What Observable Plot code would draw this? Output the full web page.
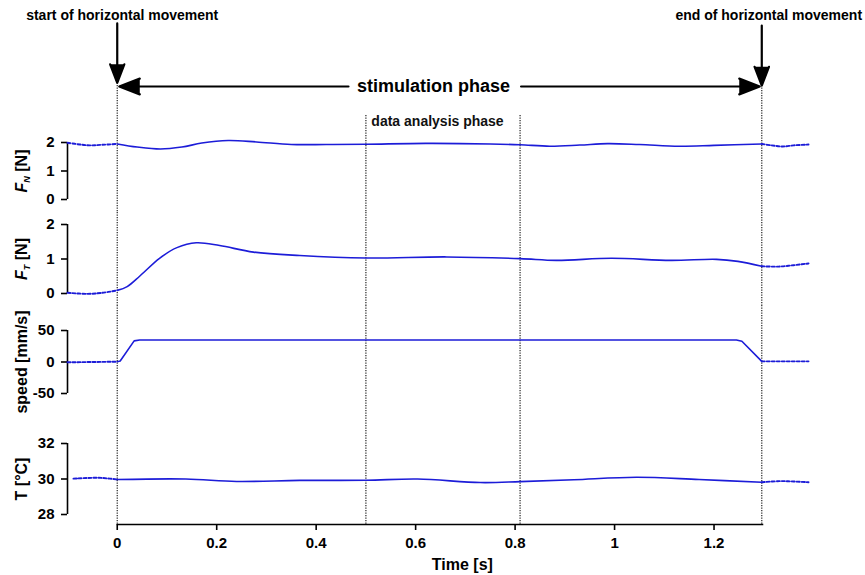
<!DOCTYPE html>
<html><head><meta charset="utf-8">
<script src="https://cdn.jsdelivr.net/npm/d3@7"></script>
<script src="https://cdn.jsdelivr.net/npm/@observablehq/plot@0.6"></script>
<style>
body{margin:0;background:#fff;}
#chart{width:865px;height:575px;overflow:hidden;}
#chart svg{display:block;}
</style></head><body><div id="chart"></div>
<script>
// ---- data ----
const xTicks = [0, 0.2, 0.4, 0.6, 0.8, 1, 1.2];
const xTickLabels = ["0", "0.2", "0.4", "0.6", "0.8", "1", "1.2"];
const xLabel = "Time [s]";
const moveStart = 0, moveEnd = 1.296;
const analysisStart = 0.5, analysisEnd = 0.81;
const phaseLines = [moveStart, analysisStart, analysisEnd, moveEnd];

const fnTicks = [0, 1, 2];
const fnPre  = [[-0.1,1.99],[-0.075,1.93],[-0.055,1.9],[-0.03,1.92],[0,1.95]];
const fnMain = [[0,1.95],[0.04,1.84],[0.087,1.77],[0.13,1.84],[0.17,1.98],[0.223,2.07],[0.28,2.02],[0.35,1.93],[0.42,1.93],[0.5,1.94],[0.62,1.97],[0.75,1.95],[0.81,1.92],[0.87,1.87],[0.93,1.91],[0.986,1.96],[1.05,1.93],[1.13,1.87],[1.2,1.9],[1.296,1.95]];
const fnPost = [[1.296,1.95],[1.315,1.9],[1.338,1.86],[1.36,1.9],[1.39,1.93]];

const ftTicks = [0, 1, 2];
const ftPre  = [[-0.1,0.02],[-0.06,-0.01],[-0.03,0.02],[0,0.09]];
const ftMain = [[0,0.09],[0.02,0.2],[0.045,0.5],[0.085,1.02],[0.12,1.33],[0.159,1.47],[0.206,1.39],[0.274,1.2],[0.367,1.1],[0.5,1.03],[0.663,1.06],[0.81,1.01],[0.883,0.96],[0.994,1.02],[1.113,0.96],[1.205,0.99],[1.248,0.93],[1.296,0.79]];
const ftPost = [[1.296,0.79],[1.33,0.78],[1.36,0.82],[1.39,0.87]];

const spTicks = [-50, 0, 50];
const spPre  = [[-0.1,-0.5],[0,0.5]];
const spMain = [[0,0.5],[0.006,1.5],[0.034,33.5],[0.045,35],[1.245,35],[1.256,33],[1.296,1]];
const spPost = [[1.296,1],[1.39,1]];

const tTicks = [28, 30, 32];
const tPre  = [[-0.088,30.02],[-0.04,30.07],[-0.015,30.02],[0,29.97]];
const tMain = [[0,29.97],[0.138,30.0],[0.24,29.86],[0.367,29.92],[0.5,29.93],[0.604,30.0],[0.73,29.8],[0.81,29.85],[0.918,29.96],[1.044,30.1],[1.17,29.97],[1.296,29.82]];
const tPost = [[1.296,29.82],[1.333,29.88],[1.36,29.86],[1.39,29.82]];

// ---- style ----
const FONT = "'Liberation Sans', Arial, Helvetica, sans-serif";
const BLUE = "#1c1cd8";
const W = 865, ML = 67, MR = 52;
const xScale = {domain: [-0.1, 1.4]};
const curve = "catmull-rom";
const baseStyle = {fontFamily: FONT, color: "black", background: "white", overflow: "visible"};

const panels = [
  {label: "F_N [N]", ticks: fnTicks, domain: [0, 2], pre: fnPre, main: fnMain, post: fnPost, h: 77, mt: 7, mb: 13},
  {label: "F_T [N]", ticks: ftTicks, domain: [0, 2], pre: ftPre, main: ftMain, post: ftPost, h: 93, mt: 12, mb: 12},
  {label: "speed [mm/s]", ticks: spTicks, domain: [-50, 50], pre: spPre, main: spMain, post: spPost, h: 115, mt: 25, mb: 27, linear: true},
  {label: "T [°C]", ticks: tTicks, domain: [28, 32], pre: tPre, main: tMain, post: tPost, h: 155, mt: 23, mb: 51, last: true}
];

function subscripts(svg) {
  d3.select(svg).selectAll("text").each(function () {
    const m = /^F_(\w) (.*)$/.exec(this.textContent);
    if (!m) return;
    const s = d3.select(this);
    s.text(null);
    s.append("tspan").attr("font-style", "italic").text("F");
    s.append("tspan").attr("font-style", "italic").attr("font-size", "9px").attr("dy", "3").text(m[1]);
    s.append("tspan").attr("dy", "-3").text(" " + m[2]);
  });
  return svg;
}

const root = document.getElementById("chart");
const arrowStyle = {stroke: "black", fill: "black", strokeWidth: 2.2, headLength: 15, headAngle: 42};

// ---- top annotation panel ----
const headerChart = Plot.plot({
  width: W, height: 135, marginLeft: ML, marginRight: MR, marginTop: 0, marginBottom: 0,
  x: {...xScale, axis: null},
  y: {domain: [0, 1], axis: null},
  style: baseStyle,
  marks: [
    Plot.ruleX([{x: moveStart, y1: 0.407}, {x: moveEnd, y1: 0.37}, {x: analysisStart, y1: 0.148}, {x: analysisEnd, y1: 0.148}],
      {x: "x", y1: "y1", y2: 0, stroke: "#222", strokeWidth: 1.2, strokeDasharray: "1.2,1.3"}),
    Plot.arrow([{x1: moveStart, y1: 0.83, x2: moveStart, y2: 0.39}, {x1: moveEnd, y1: 0.815, x2: moveEnd, y2: 0.37}],
      {x1: "x1", y1: "y1", x2: "x2", y2: "y2", ...arrowStyle}),
    Plot.arrow([{x1: 0.465, x2: moveStart}, {x1: 0.812, x2: moveEnd}],
      {x1: "x1", x2: "x2", y1: 0.363, y2: 0.363, ...arrowStyle, insetEnd: 2}),
    Plot.text(["start of horizontal movement"], {x: 0.01, y: 0.889, fontSize: 14, fontWeight: "bold", fill: "black"}),
    Plot.text(["end of horizontal movement"], {x: 1.31, y: 0.889, fontSize: 14, fontWeight: "bold", fill: "black"}),
    Plot.text(["stimulation phase"], {x: 0.636, y: 0.363, fontSize: 18, fontWeight: "bold", fill: "black"}),
    Plot.text(["data analysis phase"], {x: 0.511, y: 0.104, textAnchor: "start", fontSize: 14, fontWeight: "bold", fill: "#111"})
  ]
});
root.appendChild(headerChart);

// ---- data panels ----
for (const p of panels) {
  const lineOpts = {x: d => d[0], y: d => d[1], stroke: BLUE, curve: p.linear ? "linear" : curve};
  const marks = [
    Plot.ruleX(phaseLines, {x: d => d, stroke: "#222", strokeWidth: 1.2, strokeDasharray: "1.2,1.3",
      insetTop: -p.mt, insetBottom: p.last ? 0 : -p.mb}),
    Plot.ruleX([-0.1], {y1: p.domain[0], y2: p.domain[1], stroke: "black", strokeWidth: 1.6}),
    Plot.axisY({ticks: p.ticks, tickFormat: d => String(d), tickSize: 6, tickPadding: 7, fontSize: 15, fontWeight: "bold", label: null, strokeWidth: 1.6}),
    Plot.line(p.pre, {...lineOpts, strokeWidth: 1.9, strokeDasharray: "3,2"}),
    Plot.line(p.main, {...lineOpts, strokeWidth: 1.6}),
    Plot.line(p.post, {...lineOpts, strokeWidth: 1.9, strokeDasharray: "3,2"}),
    Plot.text([{t: p.label, y: (p.domain[0] + p.domain[1]) / 2}],
      {text: "t", y: "y", frameAnchor: "left", textAnchor: "middle", lineAnchor: "middle", dx: -46, rotate: -90, fontSize: 16, fontWeight: "bold", fill: "black"})
  ];
  if (p.last) {
    marks.push(
      Plot.ruleY([p.domain[0]], {x1: 0, x2: 1.3, dy: 10, stroke: "black", strokeWidth: 1.6}),
      Plot.axisX({ticks: xTicks, tickFormat: d => xTickLabels[xTicks.indexOf(d)], tickSize: 6, tickPadding: 7,
        fontSize: 15, fontWeight: "bold", label: null, strokeWidth: 1.6}),
      Plot.text([xLabel], {x: 0.694, frameAnchor: "bottom", lineAnchor: "middle", dy: 40, fontSize: 16, fontWeight: "bold", fill: "black"})
    );
  }
  const chart = Plot.plot({
    width: W, height: p.h, marginLeft: ML, marginRight: MR, marginTop: p.mt, marginBottom: p.mb,
    insetBottom: p.last ? 10 : 0,
    x: {...xScale, axis: null},
    y: {domain: p.domain, axis: null},
    style: baseStyle,
    marks
  });
  root.appendChild(subscripts(chart));
}
</script>
</body></html>
